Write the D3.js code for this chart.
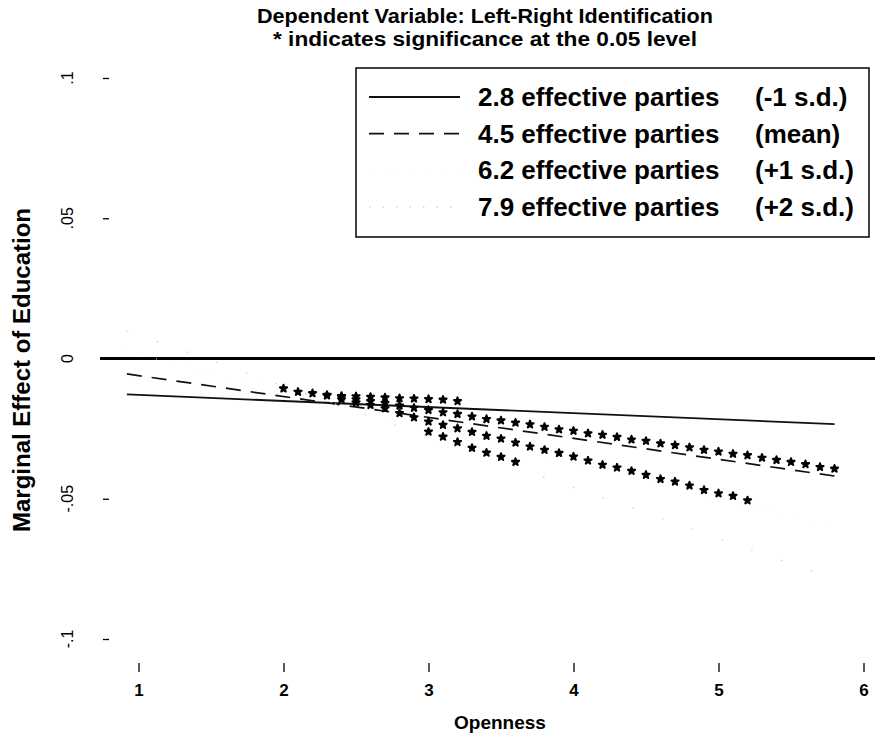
<!DOCTYPE html>
<html>
<head>
<meta charset="utf-8">
<script src="https://cdn.jsdelivr.net/npm/d3@7"></script>
<style>
  body { margin: 0; background: #fff; }
  text { font-family: "Liberation Sans", Arial, Helvetica, sans-serif; fill: #000; }
</style>
</head>
<body>
<svg id="chart" width="875" height="737"></svg>
<script>
// ---- data ----
const titleLines = ['Dependent Variable: Left-Right Identification', '* indicates significance at the 0.05 level']
const xTicks = [1, 2, 3, 4, 5, 6]
const yTicks = [0.1, 0.05, 0, -0.05, -0.1]
const yTickLabels = ['.1', '.05', '0', '-.05', '-.1']

// fitted marginal effect lines, at the two ends of the openness range
const lineX = [0.92, 5.8]
const partiesLow = [-0.0128, -0.0234]    // 2.8 parties
const partiesMean = [-0.0055, -0.0419]   // 4.5 parties
const partiesHigh = [0.0025, -0.0603]    // 6.2 parties
const partiesHigher = [0.0098, -0.0786]  // 7.9 parties

const legendLabels = ['2.8 effective parties', '4.5 effective parties', '6.2 effective parties', '7.9 effective parties']
const legendNotes = ['(-1 s.d.)', '(mean)', '(+1 s.d.)', '(+2 s.d.)']

// asterisks (significant at .05) as they sit in the picture
const sigLowX = [2.3, 2.4, 2.5, 2.6, 2.7, 2.8, 2.9, 3.0, 3.1, 3.2]
const sigLowY = [-0.0132, -0.0134, -0.0135, -0.0137, -0.0139, -0.0142, -0.0143, -0.0145, -0.0147, -0.0152]

const sigMeanX = [2.0, 2.1, 2.2, 2.3, 2.4, 2.5, 2.6, 2.7, 2.8, 2.9, 3.0, 3.1, 3.2, 3.3, 3.4, 3.5, 3.6, 3.7, 3.8, 3.9,
  4.0, 4.1, 4.2, 4.3, 4.4, 4.5, 4.6, 4.7, 4.8, 4.9, 5.0, 5.1, 5.2, 5.3, 5.4, 5.5, 5.6, 5.7, 5.8]
const sigMeanY = [-0.0107, -0.0119, -0.0124, -0.0130, -0.0137, -0.0146, -0.0152, -0.0159, -0.0168, -0.0176,
  -0.0184, -0.0192, -0.0198, -0.0207, -0.0216, -0.0221, -0.0229, -0.0235, -0.0244, -0.0253,
  -0.0258, -0.0267, -0.0272, -0.0280, -0.0289, -0.0294, -0.0303, -0.0309, -0.0317, -0.0326,
  -0.0332, -0.0340, -0.0345, -0.0354, -0.0362, -0.0369, -0.0377, -0.0387, -0.0393]

const sigHighX = [2.4, 2.5, 2.6, 2.7, 2.8, 2.9, 3.0, 3.1, 3.2, 3.3, 3.4, 3.5, 3.6, 3.7, 3.8, 3.9,
  4.0, 4.1, 4.2, 4.3, 4.4, 4.5, 4.6, 4.7, 4.8, 4.9, 5.0, 5.1, 5.2]
const sigHighY = [-0.0146, -0.0157, -0.0166, -0.0178, -0.0195, -0.0210, -0.0225, -0.0237, -0.0249, -0.0262,
  -0.0276, -0.0286, -0.0300, -0.0314, -0.0326, -0.0337, -0.0350, -0.0364, -0.0379, -0.0389,
  -0.0401, -0.0415, -0.0430, -0.0439, -0.0453, -0.0469, -0.0481, -0.0490, -0.0506]

const sigHigherX = [3.0, 3.1, 3.2, 3.3, 3.4, 3.5, 3.6]
const sigHigherY = [-0.0261, -0.0279, -0.0298, -0.0319, -0.0336, -0.0351, -0.0369]

// ---- drawing ----
const svg = d3.select('#chart')
const plotLeft = 100
const plotRight = 875

const x = d3.scaleLinear().domain([1, 6]).range([138.5, 863.5])
const y = d3.scaleLinear().domain([-0.1, 0.1]).range([639, 78])

const styles = [
  { stroke: '#111', width: 1.8, dash: null },
  { stroke: '#111', width: 1.7, dash: '15,10' },
  { stroke: '#f2f2f2', width: 1, dash: '1,14' },
  { stroke: '#cfcfcf', width: 1.2, dash: '1.5,30' }
]

// title, a little wide like the scan
const titleWidths = [456, 424]
svg.selectAll('.title')
  .data(titleLines)
  .join('text')
  .attr('class', 'title')
  .attr('x', 485)
  .attr('y', (d, i) => 23 + i * 23)
  .attr('text-anchor', 'middle')
  .attr('textLength', (d, i) => titleWidths[i])
  .attr('lengthAdjust', 'spacingAndGlyphs')
  .style('font-size', '19.5px')
  .style('font-weight', 'bold')
  .text(d => d)

// zero line
svg.append('line')
  .attr('x1', plotLeft).attr('x2', plotRight)
  .attr('y1', y(0)).attr('y2', y(0))
  .attr('stroke', '#000')
  .attr('stroke-width', 3)

// x axis
const xAxis = svg.append('g')
  .attr('transform', 'translate(0,663)')
  .call(d3.axisBottom(x).tickValues(xTicks).tickSize(9).tickPadding(12).tickFormat(d3.format('d')))
xAxis.select('.domain').remove()
xAxis.selectAll('line').attr('stroke', '#000').attr('stroke-width', 1.3)
xAxis.selectAll('text')
  .style('font-size', '17px')
  .style('font-weight', 'bold')
  .style('font-family', '"Liberation Sans", Arial, sans-serif')

// y axis, labels turned sideways
const yAxis = svg.append('g')
  .attr('transform', 'translate(109,0)')
  .call(d3.axisLeft(y).tickValues(yTicks).tickSize(6).tickFormat(''))
yAxis.select('.domain').remove()
yAxis.selectAll('line').attr('stroke', '#000').attr('stroke-width', 1.3)

svg.selectAll('.ytick')
  .data(yTicks)
  .join('text')
  .attr('class', 'ytick')
  .attr('transform', (d, i) => `translate(73,${y(d)}) rotate(-90)`)
  .attr('text-anchor', 'middle')
  .style('font-size', '16px')
  .text((d, i) => yTickLabels[i])

// axis titles
svg.append('text')
  .attr('x', 500)
  .attr('y', 729)
  .attr('text-anchor', 'middle')
  .style('font-size', '19px')
  .style('font-weight', 'bold')
  .text('Openness')

svg.append('text')
  .attr('transform', 'translate(30,370) rotate(-90)')
  .attr('text-anchor', 'middle')
  .style('font-size', '24px')
  .style('font-weight', 'bold')
  .text('Marginal Effect of Education')

// effect lines
const seriesY = [partiesLow, partiesMean, partiesHigh, partiesHigher]
const line = d3.line()
  .x(d => x(d[0]))
  .y(d => y(d[1]))

seriesY.forEach((vals, i) => {
  svg.append('path')
    .datum(d3.zip(lineX, vals))
    .attr('d', line)
    .attr('fill', 'none')
    .attr('stroke', styles[i].stroke)
    .attr('stroke-width', styles[i].width)
    .attr('stroke-dasharray', styles[i].dash)
})

// significance asterisks, drawn as the round blobs the scan shows
const sigSets = [
  d3.zip(sigLowX, sigLowY),
  d3.zip(sigMeanX, sigMeanY),
  d3.zip(sigHighX, sigHighY),
  d3.zip(sigHigherX, sigHigherY)
]
const star = d3.symbol(d3.symbolStar, 16)

sigSets.forEach(pts => {
  svg.append('g')
    .selectAll('path')
    .data(pts)
    .join('path')
    .attr('transform', d => `translate(${x(d[0])},${y(d[1])})`)
    .attr('d', star)
    .attr('fill', '#000')
    .attr('stroke', '#000')
    .attr('stroke-width', 2)
    .attr('stroke-linejoin', 'round')
})

// legend
const legend = svg.append('g')
legend.append('rect')
  .attr('x', 356).attr('y', 68)
  .attr('width', 513).attr('height', 169)
  .attr('fill', '#fff')
  .attr('stroke', '#000')
  .attr('stroke-width', 1.5)

legendLabels.forEach((label, i) => {
  const rowY = 97 + i * 36.7
  legend.append('line')
    .attr('x1', 369).attr('x2', 460)
    .attr('y1', rowY).attr('y2', rowY)
    .attr('stroke', styles[i].stroke)
    .attr('stroke-width', styles[i].width)
    .attr('stroke-dasharray', i === 3 ? '1.5,12' : styles[i].dash)
  legend.append('text')
    .attr('x', 478).attr('y', rowY + 9)
    .style('font-size', '26px')
    .style('font-weight', 'bold')
    .text(label)
  legend.append('text')
    .attr('x', 755).attr('y', rowY + 9)
    .style('font-size', '26px')
    .style('font-weight', 'bold')
    .text(legendNotes[i])
})
</script>
</body>
</html>
